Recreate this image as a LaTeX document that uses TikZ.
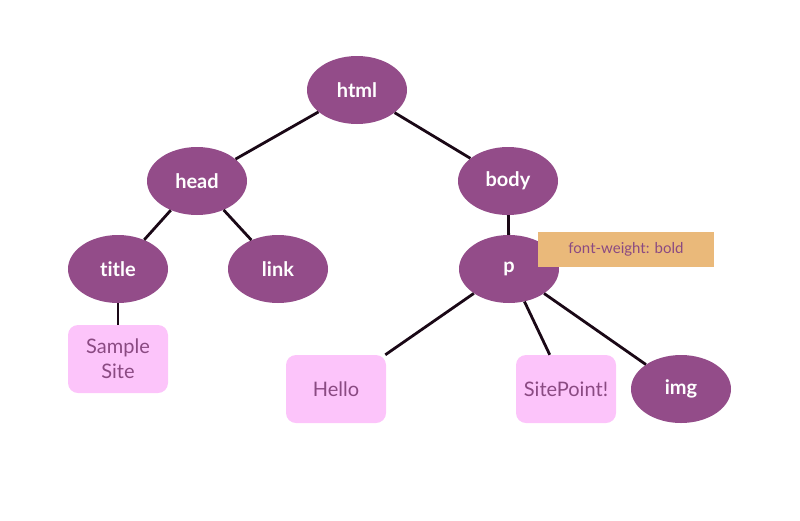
\documentclass[tikz,border=0pt]{standalone}
\usepackage{fontspec}
\setmainfont[Ligatures=NoCommon]{Lato}
\usetikzlibrary{shapes.geometric}
\definecolor{plum}{HTML}{934C89}
\definecolor{pinkbox}{HTML}{FCC4FA}
\definecolor{boxtext}{HTML}{8A4A82}
\definecolor{tan}{HTML}{EAB97A}
\definecolor{edgec}{HTML}{1A0816}
\tikzset{
  elem/.style={ellipse, fill=plum, text=white, minimum width=100pt, minimum height=68pt, inner sep=0pt, font=\fontsize{20}{24}\selectfont\bfseries},
  textbox/.style={rectangle, rounded corners=10pt, fill=pinkbox, text=boxtext, minimum width=100pt, minimum height=68pt, inner sep=0pt, align=center, font=\fontsize{20}{25}\selectfont},
  note/.style={rectangle, fill=tan, text=boxtext, minimum width=176pt, minimum height=35pt, inner sep=0pt, font=\fontsize{15}{18}\selectfont},
  link/.style={draw=edgec, line width=2.8pt}
}
\begin{document}
\begin{tikzpicture}[x=1pt,y=-1pt]
\useasboundingbox (0,0) rectangle (800,520);
\node[elem] (html) at (357,90) {html};
\node[elem] (head) at (197,181) {head};
\node[elem] (body) at (508,181) {body};
\node[elem] (title) at (118,269) {title};
\node[elem] (linkn) at (278,269) {link};
\node[elem] (p) at (509,269) {p};
\node[textbox] (sample) at (118,359) {Sample\\Site};
\node[textbox] (hello) at (336,389) {Hello};
\node[textbox] (sitepoint) at (566,389) {SitePoint!};
\node[elem] (img) at (681,389) {img};
\draw[link] (html) -- (head);
\draw[link] (html) -- (body);
\draw[link] (head) -- (title);
\draw[link] (head) -- (linkn);
\draw[link] (title) -- (sample);
\draw[link] (body) -- (p);
\draw[link] (p) -- (hello);
\draw[link] (p) -- (sitepoint);
\draw[link] (p) -- (img);
\node[note] (fw) at (626,249.5) {font-weight: bold};
\end{tikzpicture}
\end{document}
